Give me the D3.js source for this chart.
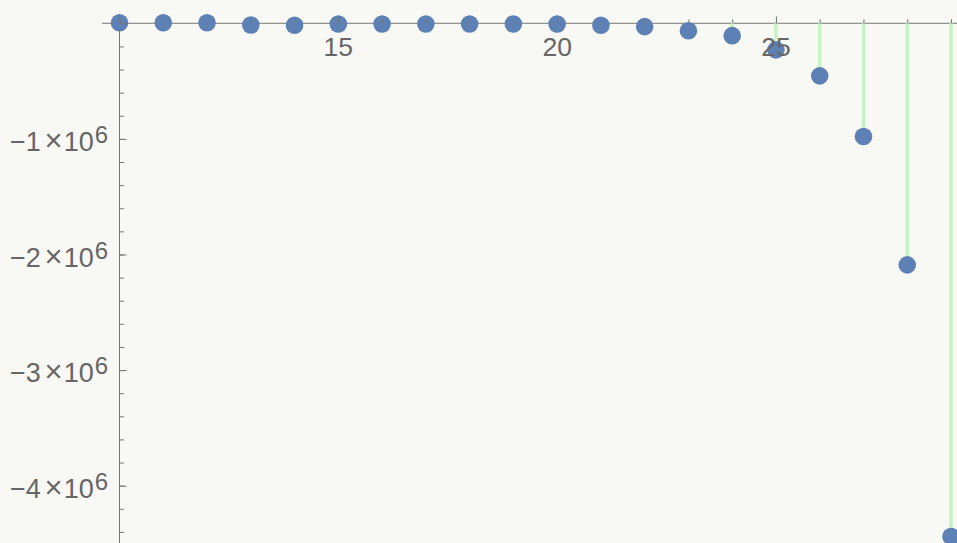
<!DOCTYPE html>
<html>
<head>
<meta charset="utf-8">
<script src="https://cdn.jsdelivr.net/npm/d3@7"></script>
<style>
  html, body { margin: 0; padding: 0; background: #f8f8f4; }
  svg { display: block; }
  text { font-family: "Liberation Sans", Arial, sans-serif; fill: #666; }
</style>
</head>
<body>
<svg id="chart" width="957" height="543"></svg>
<script>
// ---- data ----
const categories = [10, 11, 12, 13, 14, 15, 16, 17, 18, 19, 20, 21, 22, 23, 24, 25, 26, 27, 28, 29];
const values = [5e3, 5e3, 5e3, -1.5e4, -1.7e4, -6e3, -6e3, -6e3, -6e3, -6e3, -6e3,
                 -1.7e4, -2.9e4, -6.4e4, -1.07e5, -2.3e5, -4.55e5, -9.8e5, -2.09e6, -4.44e6];
const xMajorTicks = [10, 15, 20, 25];
const xTickLabels = [15, 20, 25];
const xMinorTicks = [10, 11, 12, 13, 14, 15, 16, 17, 18, 19, 20, 21, 22, 23, 24, 25, 26, 27, 28, 29];
const yMajorTicks = [0, -1e6, -2e6, -3e6, -4e6];
const yTickLabels = [-1, -2, -3, -4];   // mantissas of ×10^6
const yExponent = 6;

// ---- layout ----
const W = 957, H = 543;
const svg = d3.select("#chart");
svg.append("rect").attr("width", W).attr("height", H).attr("fill", "#f8f8f4");

const x = d3.scaleLinear().domain([9.6, 29.137]).range([102, 957]);
const y = d3.scaleLinear().domain([0.0804e6, -4.496e6]).range([14, 543]);

const axisColor = "#777";

// axis lines
svg.append("line")
  .attr("x1", x.range()[0]).attr("x2", x.range()[1])
  .attr("y1", y(0)).attr("y2", y(0))
  .attr("stroke", axisColor).attr("stroke-width", 1);
svg.append("line")
  .attr("x1", x(10)).attr("x2", x(10))
  .attr("y1", y.range()[0]).attr("y2", y.range()[1])
  .attr("stroke", axisColor).attr("stroke-width", 1);

// stems (filling to axis)
svg.append("g").selectAll("line")
  .data(categories)
  .join("line")
  .attr("x1", d => x(d)).attr("x2", d => x(d))
  .attr("y1", y(0)).attr("y2", (d, i) => y(values[i]))
  .attr("stroke", "#c3f5c3").attr("stroke-width", 3.4);

// points
svg.append("g").selectAll("circle")
  .data(categories)
  .join("circle")
  .attr("cx", d => x(d))
  .attr("cy", (d, i) => y(values[i]))
  .attr("r", 8.8)
  .attr("fill", "#5e81b5");

// ticks
function styleAxis(g) {
  g.select(".domain").remove();
  g.selectAll(".tick line").attr("stroke", axisColor).attr("stroke-width", 1);
  g.selectAll(".tick text").remove();
}
svg.append("g").attr("transform", `translate(0,${y(0)})`)
  .call(d3.axisTop(x).tickValues(xMinorTicks).tickSize(4).tickFormat(""))
  .call(styleAxis);
svg.append("g").attr("transform", `translate(0,${y(0)})`)
  .call(d3.axisTop(x).tickValues(xMajorTicks).tickSize(7).tickFormat(""))
  .call(styleAxis);

const yMinor = d3.range(0, -4.6e6, -2e5);
svg.append("g").attr("transform", `translate(${x(10)},0)`)
  .call(d3.axisRight(y).tickValues(yMinor).tickSize(4.5).tickFormat(""))
  .call(styleAxis);
svg.append("g").attr("transform", `translate(${x(10)},0)`)
  .call(d3.axisRight(y).tickValues(yMajorTicks).tickSize(7).tickFormat(""))
  .call(styleAxis);

// x labels
svg.append("g").selectAll("text")
  .data(xTickLabels)
  .join("text")
  .attr("x", d => x(d))
  .attr("y", y(0) + 33.2)
  .attr("text-anchor", "middle")
  .attr("font-size", 26.5)
  .text(d => d);

// y labels: "−n×10^6"
const yl = svg.append("g").selectAll("text")
  .data(yTickLabels)
  .join("text")
  .attr("x", 10.1)
  .attr("y", d => y(d * 1e6) + 12.2)
  .attr("text-anchor", "start")
  .attr("font-size", 27);
yl.append("tspan").text(d => "\u2212" + Math.abs(d));
yl.append("tspan").attr("dx", 3.5).attr("font-size", 31).text("\u00d7");
yl.append("tspan").attr("dx", 1.2).text("10");
yl.append("tspan").attr("font-size", 24).attr("dx", 1).attr("dy", -7.9).text(yExponent);
</script>
</body>
</html>
